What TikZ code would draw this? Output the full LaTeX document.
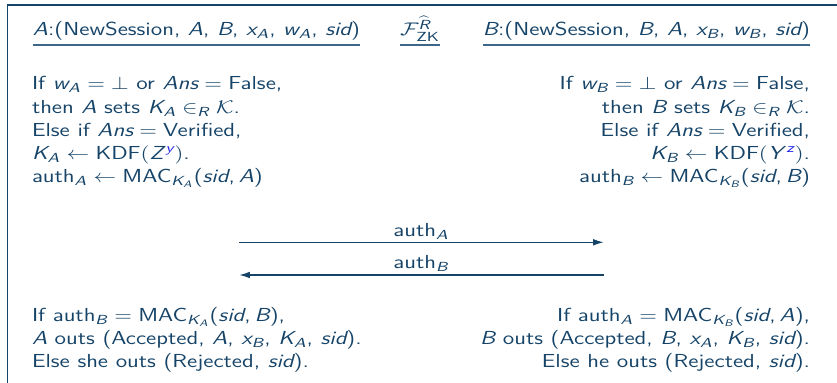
\documentclass[tikz,border=0pt]{standalone}
\usepackage{amsmath,amssymb}
\usepackage{fontspec}
\usetikzlibrary{arrows.meta}
\renewcommand{\familydefault}{\sfdefault}
\definecolor{ink}{RGB}{22,68,104}
\definecolor{uline}{RGB}{62,102,136}
\definecolor{zblue}{RGB}{40,40,235}
\newcommand{\sv}[1]{\text{\sffamily\itshape #1}}
\tikzset{
  txt/.style={inner sep=0pt, outer sep=0pt, text=ink, xscale=1.24, font=\fontsize{11.3}{13.5}\selectfont\sffamily},
  lline/.style={txt, anchor=base west},
  rline/.style={txt, anchor=base east},
  frameline/.style={draw=ink, line width=1.1pt},
  ulinestyle/.style={draw=uline, line width=1.2pt},
  msg/.style={draw=ink, line width=0.9pt, -{Latex[length=6.5pt,width=4pt]}},
  msglabel/.style={txt, anchor=base}
}
\begin{document}
\begin{tikzpicture}[x=0.6pt,y=-0.6pt]
\useasboundingbox (0,0) rectangle (837,383);
\draw[frameline] (837,5) -- (7.5,5) -- (7.5,383);

% headers
\node[lline] (ha) at (33,36) {\sv{A}:(NewSession, \sv{A}, \sv{B}, $\sv{x}_{\sv{A}}$, $\sv{w}_{\sv{A}}$, \sv{sid})};
\node[lline] (hf) at (400,36) {$\mathcal{F}^{\widehat{\sv{R}}}_{\text{ZK}}$};
\node[rline] (hb) at (810,36) {\sv{B}:(NewSession, \sv{B}, \sv{A}, $\sv{x}_{\sv{B}}$, $\sv{w}_{\sv{B}}$, \sv{sid})};
\coordinate (ul) at (0,45.5);
\draw[ulinestyle] (ha.west |- ul) -- (ha.east |- ul);
\draw[ulinestyle] (hf.west |- ul) -- (hf.east |- ul);
\draw[ulinestyle] (hb.west |- ul) -- (hb.east |- ul);

% A block
\node[lline] (a1) at (32,90) {If $\sv{w}_{\sv{A}} = \bot$ or $\sv{Ans} = \text{False}$,};
\node[lline] (a2) at (32,113.2) {then \sv{A} sets $\sv{K}_{\sv{A}} \in_{\sv{R}} \mathcal{K}$.};
\node[lline] (a3) at (32,136.5) {Else if $\sv{Ans} = \text{Verified}$,};
\node[lline] (a4) at (32,159.8) {$\sv{K}_{\sv{A}} \leftarrow \text{KDF}(\sv{Z\/}^{\textcolor{zblue}{\sv{y}}})$.};
\node[lline] (a5) at (32,183) {auth$_{\sv{A}} \leftarrow \text{MAC}_{\sv{K}_{\sv{A}}}$(\sv{sid},\,\sv{A})};

% B block
\node[rline] (b1) at (810,90) {If $\sv{w}_{\sv{B}} = \bot$ or $\sv{Ans} = \text{False}$,};
\node[rline] (b2) at (810,113.2) {then \sv{B} sets $\sv{K}_{\sv{B}} \in_{\sv{R}} \mathcal{K}$.};
\node[rline] (b3) at (810,136.5) {Else if $\sv{Ans} = \text{Verified}$,};
\node[rline] (b4) at (810,159.8) {$\sv{K}_{\sv{B}} \leftarrow \text{KDF}(\sv{Y\/}^{\textcolor{zblue}{\sv{z}}})$.};
\node[rline] (b5) at (810,183) {auth$_{\sv{B}} \leftarrow \text{MAC}_{\sv{K}_{\sv{B}}}$(\sv{sid},\,\sv{B})};

% messages
\coordinate (m1l) at (239,242.3);
\coordinate (m1r) at (604,242.3);
\coordinate (m2l) at (239,275);
\coordinate (m2r) at (604,275);
\draw[msg] (m1l) -- (m1r);
\draw[msg] (m2r) -- (m2l);
\node[msglabel] (l1) at (421,236.5) {auth$_{\sv{A}}$};
\node[msglabel] (l2) at (421,268.5) {auth$_{\sv{B}}$};

% final blocks
\node[lline] (c1) at (32,321.7) {If auth$_{\sv{B}} = \text{MAC}_{\sv{K}_{\sv{A}}}$(\sv{sid},\,\sv{B}),};
\node[lline] (c2) at (32,344.8) {\sv{A} outs (Accepted, \sv{A}, $\sv{x}_{\sv{B}}$, $\sv{K}_{\sv{A}}$, \sv{sid}).};
\node[lline] (c3) at (32,367.7) {Else she outs (Rejected, \sv{sid}).};
\node[rline] (d1) at (810,321.7) {If auth$_{\sv{A}} = \text{MAC}_{\sv{K}_{\sv{B}}}$(\sv{sid},\,\sv{A}),};
\node[rline] (d2) at (810,344.8) {\sv{B} outs (Accepted, \sv{B}, $\sv{x}_{\sv{A}}$, $\sv{K}_{\sv{B}}$, \sv{sid}).};
\node[rline] (d3) at (810,367.7) {Else he outs (Rejected, \sv{sid}).};
\end{tikzpicture}
\end{document}
